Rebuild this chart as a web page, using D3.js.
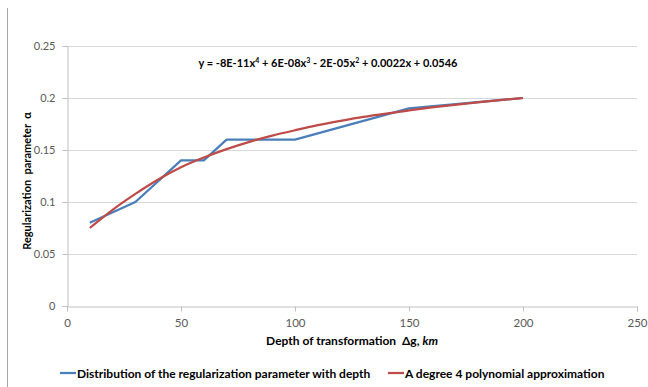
<!DOCTYPE html>
<html><head><meta charset="utf-8">
<script src="https://cdn.jsdelivr.net/npm/d3@7"></script>
<style>
body{margin:0;background:#fff;}
text{font-family:Lato,"Open Sans",sans-serif;}
</style></head>
<body><svg id="c" width="648" height="387"></svg>
<script>
const depth = [10, 30, 50, 60, 70, 100, 150, 200];
const alphaVals = [0.08, 0.10, 0.14, 0.14, 0.16, 0.16, 0.19, 0.20];
const fitDepth = [10, 20, 30, 40, 50, 60, 70, 80, 90, 100, 110, 120, 130, 140, 150, 160, 170, 180, 190, 200];
const fitVals = [0.075, 0.093, 0.108, 0.122, 0.134, 0.143, 0.151, 0.158, 0.164, 0.169, 0.174, 0.178, 0.182, 0.185, 0.188, 0.191, 0.1935, 0.1958, 0.198, 0.200];
const xTicks = [0, 50, 100, 150, 200, 250];
const yTicks = [0, 0.05, 0.1, 0.15, 0.2, 0.25];
const seriesNames = ["Distribution of the regularization parameter with depth", "A degree 4 polynomial approximation"];
const colors = ["#4a7ebb", "#be4b48"];

const svg = d3.select("#c");
const L = 67, R = 637, T = 46, B = 306;
const x = d3.scaleLinear().domain([0, 250]).range([L, R]);
const y = d3.scaleLinear().domain([0, 0.25]).range([B, T]);

// outer border (left edge)
svg.append("line").attr("x1", 7.5).attr("x2", 7.5).attr("y1", 8).attr("y2", 387).attr("stroke", "#a6a6a6").attr("stroke-width", 1);

// gridlines
svg.append("g").selectAll("line").data(yTicks.filter(d => d > 0)).join("line")
  .attr("x1", L).attr("x2", R).attr("y1", d => Math.round(y(d)) + 0.5).attr("y2", d => Math.round(y(d)) + 0.5)
  .attr("stroke", "#d9d9d9").attr("stroke-width", 1);

// y axis
const yAx = svg.append("g").attr("transform", `translate(${L + 0.5},0)`)
  .call(d3.axisLeft(y).tickValues(yTicks).tickFormat(d => d === 0 ? "0" : String(+d.toFixed(2))).tickSizeOuter(0).tickSize(5).tickPadding(7));
yAx.select(".domain").attr("stroke", "#bfbfbf");
yAx.selectAll(".tick line").attr("stroke", "#bfbfbf");
yAx.selectAll("text").attr("fill", "#595959").style("font-size", "11px").style("font-family", "Lato,sans-serif");

// x axis
const xAx = svg.append("g").attr("transform", `translate(0,${B + 0.5})`)
  .call(d3.axisBottom(x).tickValues(xTicks).tickSizeOuter(0).tickSize(5).tickPadding(7));
xAx.select(".domain").attr("stroke", "#bfbfbf");
xAx.selectAll(".tick line").attr("stroke", "#bfbfbf");
xAx.selectAll("text").attr("fill", "#595959").style("font-size", "11.5px").style("font-family", "Lato,sans-serif");

// lines
const line = d3.line().x(d => x(d[0])).y(d => y(d[1]));
svg.append("path").datum(depth.map((d, i) => [d, alphaVals[i]]))
  .attr("d", line).attr("fill", "none").attr("stroke", colors[0]).attr("stroke-width", 2.25).attr("stroke-linejoin", "round");
svg.append("path").datum(fitDepth.map((d, i) => [d, fitVals[i]]))
  .attr("d", d3.line().x(d => x(d[0])).y(d => y(d[1])).curve(d3.curveBasis))
  .attr("fill", "none").attr("stroke", colors[1]).attr("stroke-width", 2.25);

// equation
const eq = svg.append("text").attr("x", 328).attr("y", 67).attr("text-anchor", "middle")
  .attr("fill", "#000").style("font-size", "11px").style("font-weight", "bold");
eq.append("tspan").text("y = -8E-11x");
eq.append("tspan").attr("dy", -4).style("font-size", "7px").text("4");
eq.append("tspan").attr("dy", 4).text(" + 6E-08x");
eq.append("tspan").attr("dy", -4).style("font-size", "7px").text("3");
eq.append("tspan").attr("dy", 4).text(" - 2E-05x");
eq.append("tspan").attr("dy", -4).style("font-size", "7px").text("2");
eq.append("tspan").attr("dy", 4).text(" + 0.0022x + 0.0546");

// axis titles
svg.append("text").attr("transform", `translate(31,181) rotate(-90)`).attr("text-anchor", "middle")
  .style("font-size", "11px").style("font-weight", "bold").attr("fill", "#000").text("Regularization\u00a0\u00a0parameter\u00a0\u00a0α");
const xt = svg.append("text").attr("x", 352).attr("y", 345).attr("text-anchor", "middle")
  .style("font-size", "12px").style("font-weight", "bold").attr("fill", "#000");
xt.append("tspan").text("Depth of transformation\u00a0\u00a0Δg, ");
xt.append("tspan").style("font-style", "italic").text("km");

// legend
const lx = [60, 388];
seriesNames.forEach((n, i) => {
  svg.append("line").attr("x1", lx[i]).attr("x2", lx[i] + 16).attr("y1", 373).attr("y2", 373)
    .attr("stroke", colors[i]).attr("stroke-width", 2.25);
  svg.append("text").attr("x", lx[i] + 17).attr("y", 377.5).style("font-size", "12px").style("font-weight", "bold")
    .attr("fill", "#000").text(n);
});
</script></body></html>
